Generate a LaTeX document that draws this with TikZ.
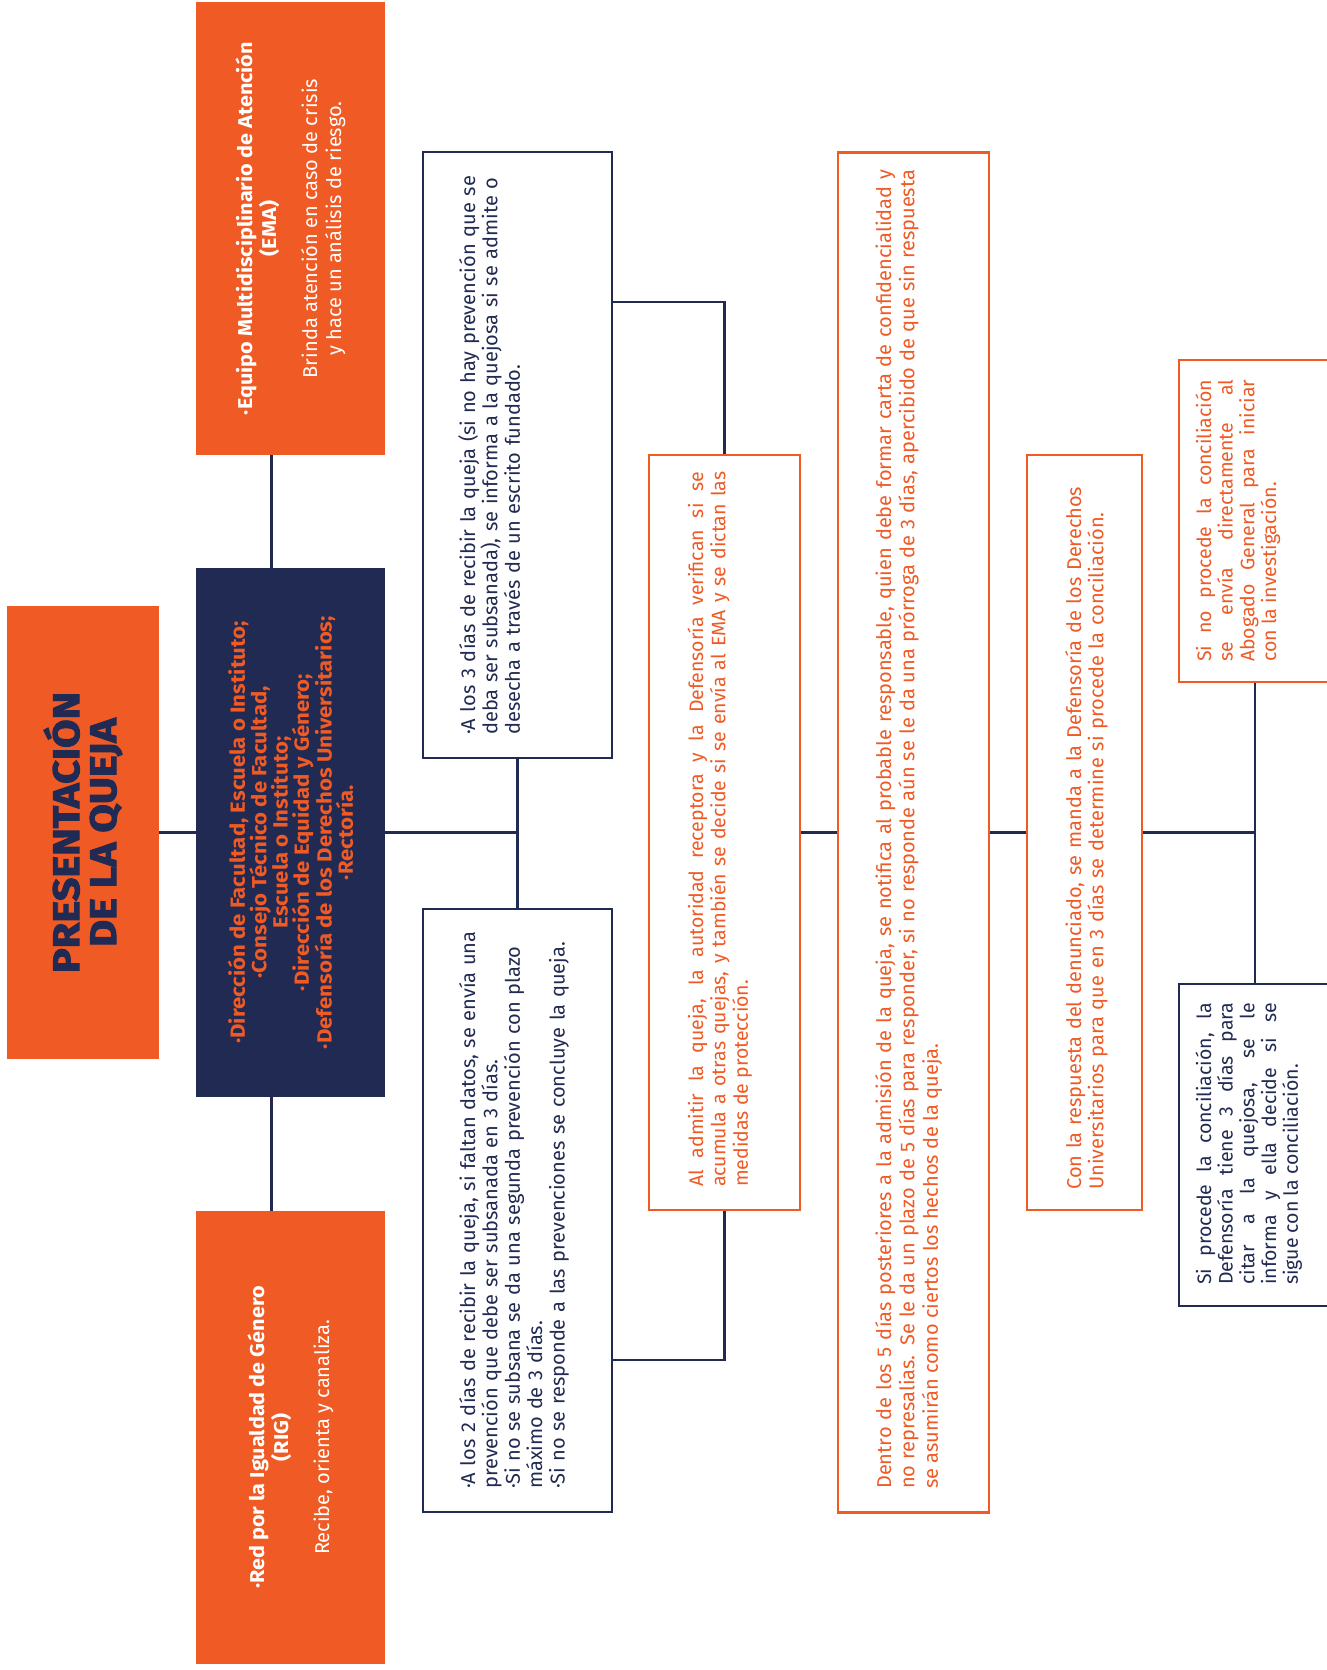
\documentclass[tikz,border=0pt]{standalone}
\usepackage{fontspec}
\setmainfont{Fira Sans}[BoldFeatures={FakeStretch=1.08}]
\newfontfamily\titlefont{Fira Sans}[BoldFeatures={FakeBold=2.5, FakeStretch=1.12}]
\usepackage{xcolor}
\usetikzlibrary{positioning,calc}
\definecolor{qorange}{HTML}{F05A24}
\definecolor{qnavy}{HTML}{212A52}

\begin{document}
\begin{tikzpicture}[
    x=1bp, y=-1bp,
    link/.style={draw=qnavy, line width=2.6bp},
    fillbox/.style={fill=qorange, inner sep=0pt},
    darkbox/.style={fill=qnavy, inner sep=0pt},
    navybox/.style={draw=qnavy, fill=white, line width=2.6bp, inner sep=0pt},
    orangebox/.style={draw=qorange, fill=white, line width=2.6bp, inner sep=0pt},
    vtxt/.style={rotate=90, inner sep=0pt, anchor=base west},
    body/.style={font=\fontsize{20bp}{22.4bp}\selectfont},
    side/.style={rotate=90, inner sep=0pt, text=white, align=center, font=\fontsize{20bp}{24bp}\selectfont}
]
\useasboundingbox (0,0) rectangle (1327,1670);

\node[fillbox, minimum width=152bp, minimum height=453bp] (title) at (83,832.5) {};
\node[rotate=90, text=qnavy, align=center, font=\titlefont\bfseries\fontsize{37bp}{37bp}\selectfont] (titletxt) at (title) {PRESENTACIÓN\\DE LA QUEJA};

\node[fillbox, minimum width=189bp, minimum height=453bp] (ema) at (290.5,228.5) {};
\node[side] (ematxt) at (ema) {\textbf{·Equipo Multidisciplinario de Atención}\\\textbf{(EMA)}\\[17bp]Brinda atención en caso de crisis\\y hace un análisis de riesgo.};

\node[darkbox, minimum width=189bp, minimum height=529bp] (org) at (290.5,832.5) {};
\node[rotate=90, inner sep=0pt, text=qorange, align=center, font=\bfseries\fontsize{20.5bp}{21.3bp}\selectfont] (orgtxt) at (org) {·Dirección de Facultad, Escuela o Instituto;\\·Consejo Técnico de Facultad,\\Escuela o Instituto;\\·Dirección de Equidad y Género;\\·Defensoría de los Derechos Universitarios;\\·Rectoría.};

\node[fillbox, minimum width=189bp, minimum height=453bp] (rig) at (290.5,1437.5) {};
\node[side] (rigtxt) at (rig) {\textbf{·Red por la Igualdad de Género}\\\textbf{(RIG)}\\[17bp]Recibe, orienta y canaliza.};

\node[navybox, minimum width=189bp, minimum height=606bp] (tres) at (517.5,455) {};
\node[vtxt, body, text=qnavy, text width=600bp, align=left] (trestxt) at (475,735) {·A los 3 días de recibir la queja (si no hay prevención que se\\deba ser subsanada), se informa a la quejosa si se admite o\\desecha a través de un escrito fundado.};

\node[navybox, minimum width=189bp, minimum height=603bp] (dos) at (517.5,1210.5) {};
\node[vtxt, body, text=qnavy, text width=600bp, align=left] (dostxt) at (475,1489) {·A los 2 días de recibir la queja, si faltan datos, se envía una\\prevención que debe ser subsanada en 3 días.\\·Si no se subsana se da una segunda prevención con plazo\\máximo de 3 días.\\·Si no se responde a las prevenciones se concluye la queja.};

\node[orangebox, minimum width=151bp, minimum height=755bp] (admite) at (724.5,832.5) {};
\node[vtxt, text=qorange, text width=715bp, align=justify, font=\fontsize{19.5bp}{22.4bp}\selectfont] (admitetxt) at (703,1187) {Al admitir la queja, la autoridad receptora y la Defensoría verifican si se\linebreak acumula a otras quejas, y también se decide si se envía al EMA y se dictan las\linebreak medidas de protección.};

\node[orangebox, minimum width=151bp, minimum height=1360bp] (notifica) at (913.5,832.5) {};
\node[vtxt, text=qorange, text width=1319bp, align=justify, font=\fontsize{20bp}{23.4bp}\selectfont] (notificatxt) at (891,1489) {Dentro de los 5 días posteriores a la admisión de la queja, se notifica al probable responsable, quien debe formar carta de confidencialidad y\linebreak no represalias. Se le da un plazo de 5 días para responder, si no responde aún se le da una prórroga de 3 días, apercibido de que sin respuesta\linebreak se asumirán como ciertos los hechos de la queja.};

\node[orangebox, minimum width=115bp, minimum height=755bp] (respuesta) at (1084.5,832.5) {};
\node[vtxt, text=qorange, text width=740bp, align=left, font=\fontsize{20bp}{22.4bp}\selectfont] (respuestatxt) at (1081,1190) {Con la respuesta del denunciado, se manda a la Defensoría de los Derechos\\Universitarios para que en 3 días se determine si procede la conciliación.};

\node[orangebox, minimum width=152bp, minimum height=322bp] (noprocede) at (1255,521) {};
\node[vtxt, text=qorange, text width=282bp, align=justify, font=\fontsize{19.5bp}{21.7bp}\selectfont] (noprocedetxt) at (1211,662) {Si no procede la conciliación\linebreak se envía directamente al\linebreak Abogado General para iniciar\linebreak con la investigación.};

\node[navybox, minimum width=152bp, minimum height=322bp] (procede) at (1255,1145) {};
\node[vtxt, text=qnavy, text width=282bp, align=justify, font=\fontsize{19.5bp}{21.7bp}\selectfont] (procedetxt) at (1211,1285) {Si procede la conciliación, la\linebreak Defensoría tiene 3 días para\linebreak citar a la quejosa, se le\linebreak informa y ella decide si se\linebreak sigue con la conciliación.};

\draw[link] (title.east) -- (org.west);
\draw[link] ([xshift=-19bp]ema.south) -- ([xshift=-19bp]org.north);
\draw[link] ([xshift=-19bp]org.south) -- ([xshift=-19bp]rig.north);
\draw[link] (org.east) -- (org.east -| tres.south);
\draw[link] (tres.south) -- (dos.north);
\draw[link] ([yshift=153bp]tres.east) -| (admite.north);
\draw[link] ([yshift=-149.5bp]dos.east) -| (admite.south);
\draw[link] (admite.east) -- (notifica.west);
\draw[link] (notifica.east) -- (respuesta.west);
\draw[link] (respuesta.east) -- (respuesta.east -| noprocede.south);
\draw[link] (noprocede.south) -- (procede.north);
\end{tikzpicture}
\end{document}
